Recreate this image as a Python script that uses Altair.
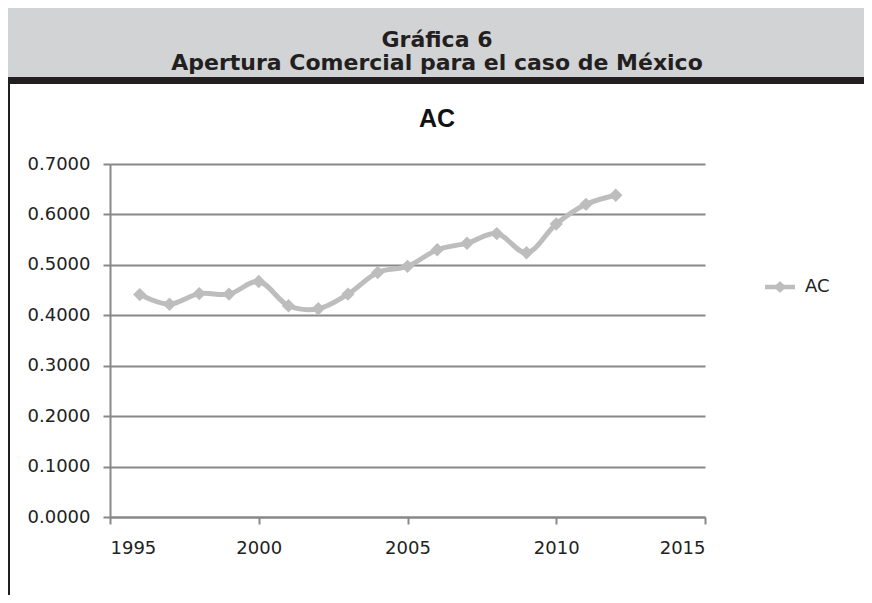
import altair as alt
import pandas as pd

years = list(range(1996, 2013))
ac_values = [0.441, 0.422, 0.443, 0.442, 0.467, 0.419, 0.413, 0.442, 0.485,
             0.497, 0.530, 0.543, 0.562, 0.524, 0.581, 0.620, 0.638]
y_ticks = [0.0, 0.1, 0.2, 0.3, 0.4, 0.5, 0.6, 0.7]
x_ticks = [1995, 2000, 2005, 2010, 2015]
header_lines = ["Gráfica 6", "Apertura Comercial para el caso de México"]
chart_title = "AC"
series_name = "AC"

df = pd.DataFrame({"year": years, "ac": ac_values})
one = pd.DataFrame({"k": [0]})

W, H = 595, 353
PL, PT = 102, 156
TOTAL_W, TOTAL_H = 856, 587
LINE_COLOR = "#bdbdbd"
GRID = "#888888"
TICK_FONT = "DejaVu Sans"

xs = alt.X("year:Q", scale=alt.Scale(domain=[1995, 2015], nice=False, zero=False),
           axis=alt.Axis(values=x_ticks, format="d", title=None, grid=False,
                         domainColor=GRID, domainWidth=2, tickColor=GRID, tickWidth=2,
                         tickSize=7, labelFont=TICK_FONT, labelFontSize=18,
                         labelColor="#222222", labelPadding=15))
ys = alt.Y("ac:Q", scale=alt.Scale(domain=[0, 0.7], nice=False),
           axis=alt.Axis(values=y_ticks, format=".4f", title=None, grid=True,
                         gridColor=GRID, gridWidth=2, domainColor=GRID, domainWidth=2,
                         tickColor=GRID, tickWidth=2, tickSize=7, labelFont=TICK_FONT,
                         labelFontSize=18, labelColor="#222222", labelPadding=13))

base = alt.Chart(df)
line = base.mark_line(color=LINE_COLOR, strokeWidth=5, interpolate="catmull-rom").encode(x=xs, y=ys)
pts = base.mark_point(shape="diamond", filled=True, color=LINE_COLOR, size=180, opacity=1).encode(
    x="year:Q", y="ac:Q")

hdr = alt.Chart(one)
gray_band = hdr.mark_rect(color="#d2d3d5").encode(
    x=alt.value(-PL), x2=alt.value(TOTAL_W - PL), y=alt.value(-PT), y2=alt.value(-87))
black_band = hdr.mark_rect(color="#231f20").encode(
    x=alt.value(-PL), x2=alt.value(TOTAL_W - PL), y=alt.value(-87), y2=alt.value(-80))
left_border = hdr.mark_rect(color="#231f20").encode(
    x=alt.value(-PL), x2=alt.value(-PL + 2), y=alt.value(-80), y2=alt.value(TOTAL_H - PT))

h1 = hdr.mark_text(font="DejaVu Sans", fontWeight="bold", fontSize=22, color="#231f20",
                   align="center", baseline="middle").encode(
    x=alt.value(327), y=alt.value(-124), text=alt.value(header_lines[0]))
h2 = hdr.mark_text(font="DejaVu Sans", fontWeight="bold", fontSize=22, color="#231f20",
                   align="center", baseline="middle").encode(
    x=alt.value(327), y=alt.value(-101), text=alt.value(header_lines[1]))
ttl = hdr.mark_text(font="Liberation Sans", fontWeight="bold", fontSize=25, color="#111111",
                    align="center", baseline="middle").encode(
    x=alt.value(327), y=alt.value(-45), text=alt.value(chart_title))

leg_line = hdr.mark_rule(color=LINE_COLOR, strokeWidth=4.5).encode(
    x=alt.value(655), x2=alt.value(685), y=alt.value(123))
leg_pt = hdr.mark_point(shape="diamond", filled=True, color=LINE_COLOR, size=150, opacity=1).encode(
    x=alt.value(670), y=alt.value(123))
leg_txt = hdr.mark_text(font=TICK_FONT, fontSize=18, color="#222222", align="left",
                        baseline="middle").encode(
    x=alt.value(695), y=alt.value(123), text=alt.value(series_name))

chart = alt.layer(
    gray_band, black_band, left_border, h1, h2, ttl, line, pts, leg_line, leg_pt, leg_txt
).properties(
    width=W, height=H,
    padding={"left": PL, "top": PT, "right": TOTAL_W - PL - W, "bottom": TOTAL_H - PT - H},
    autosize=alt.AutoSizeParams(type="none"),
    background="white",
).configure_view(stroke=None)

chart.save("out.html", embed_options={"renderer": "svg", "actions": False})
